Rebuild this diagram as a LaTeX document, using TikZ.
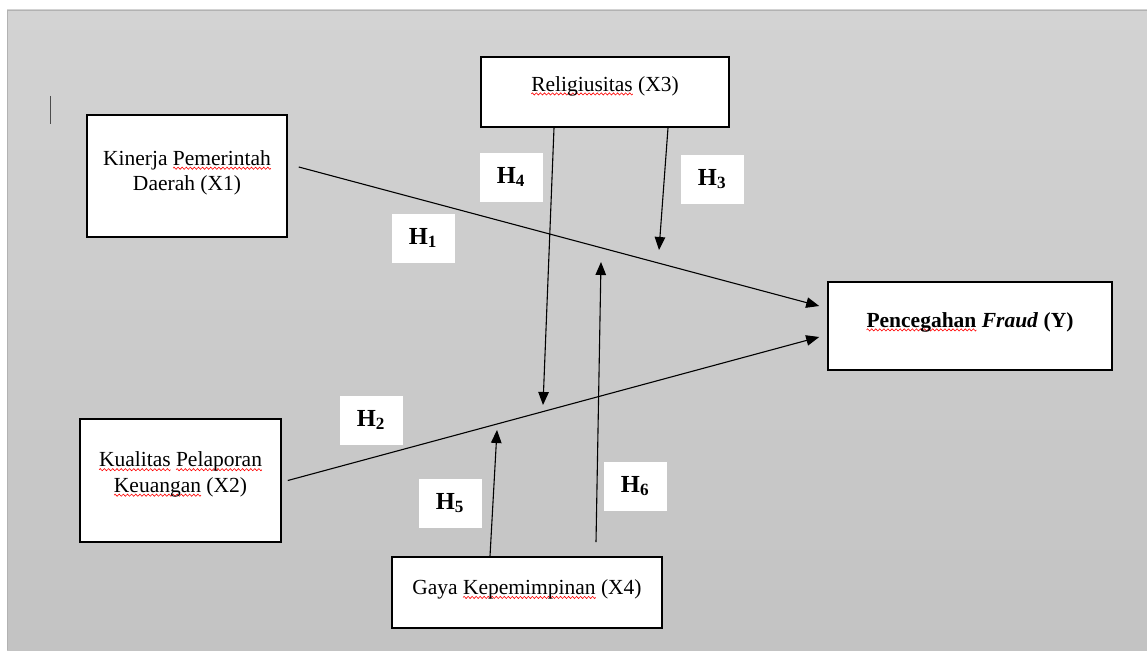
\documentclass[tikz,border=0pt]{standalone}
\usepackage{fontspec}
\setmainfont{Liberation Serif}
\usetikzlibrary{arrows.meta}
\definecolor{bgtop}{RGB}{211,211,211}
\definecolor{bgbot}{RGB}{195,195,195}
\definecolor{framecol}{RGB}{178,178,178}
\newsavebox\wavebox
\sbox\wavebox{\tikz{\useasboundingbox (0pt,-1.2pt) rectangle (4pt,1.2pt);\draw[red,line width=0.6pt] (0pt,0pt) sin (1pt,1.1pt) cos (2pt,0pt) sin (3pt,-1.1pt) cos (4pt,0pt);}}
\newcommand\spell[1]{\setbox0\hbox{#1}\rlap{\lower4pt\hbox to \wd0{\xleaders\copy\wavebox\hfill}}\box0\relax}
\begin{document}
\begin{tikzpicture}[x=1pt,y=-1pt,
  box/.style={draw=black,line width=1.6pt,fill=white,inner sep=0pt},
  lbl/.style={text=black,font=\fontsize{21.5}{25.5}\selectfont,align=center,inner sep=0pt},
  hyp/.style={fill=white,minimum width=63pt,minimum height=49pt,inner sep=0pt,font=\fontsize{24.5}{29}\selectfont\bfseries},
  link/.style={line width=1.1pt,-{Triangle[length=13pt,width=10.5pt]}}]
\useasboundingbox (0,0) rectangle (1147,650);
\fill[white] (0,0) rectangle (1147,650);
\shade[top color=bgtop,bottom color=bgbot] (7,10) rectangle (1147,650);
\draw[framecol,line width=1pt] (7.5,650) -- (7.5,10.5) -- (1147,10.5);
\draw[black!70,line width=1pt] (50.5,96) -- (50.5,124);
% boxes
\node[box,minimum width=200pt,minimum height=122pt] (x1) at (187,176) {};
\node[lbl] (x1t) at ([yshift=3pt]x1.center) {Kinerja \spell{Pemerintah}\\Daerah (X1)};
\node[box,minimum width=248pt,minimum height=70pt] (x3) at (605,92) {};
\node[lbl] (x3t) at ([yshift=6pt]x3.center) {\spell{Religiusitas} (X3)};
\node[box,minimum width=284pt,minimum height=88pt] (y) at (970,326) {};
\node[lbl,font=\fontsize{21.5}{25.5}\selectfont\bfseries] (yt) at ([yshift=4pt]y.center) {\spell{Pencegahan} \textit{Fraud} (Y)};
\node[box,minimum width=201pt,minimum height=123pt] (x2) at (180.5,480.5) {};
\node[lbl] (x2t) at ([yshift=6pt]x2.center) {\spell{Kualitas} \spell{Pelaporan}\\\spell{Keuangan} (X2)};
\node[box,minimum width=270pt,minimum height=71pt] (x4) at (527,592.5) {};
\node[lbl] (x4t) at ([yshift=3pt]x4.center) {Gaya \spell{Kepemimpinan} (X4)};
% hypothesis labels
\node[hyp] (h1) at (423,238) {H\textsubscript{1}};
\node[hyp] (h2) at (371,420) {H\textsubscript{2}};
\node[hyp] (h3) at (712,179) {H\textsubscript{3}};
\node[hyp] (h4) at (511,177) {H\textsubscript{4}};
\node[hyp] (h5) at (450,503) {H\textsubscript{5}};
\node[hyp] (h6) at (635,486) {H\textsubscript{6}};
% connectors
\coordinate (t4) at (543,405);
\coordinate (t3) at (659,250);
\coordinate (t5) at (497,430);
\coordinate (t6) at (601,262);
\draw[link] ([xshift=11pt,yshift=9pt]x1.east) -- ([xshift=-8pt,yshift=20pt]y.west);
\draw[link] ([xshift=6pt]x2.east) -- ([xshift=-8pt,yshift=-11pt]y.west);
\draw[link] ([xshift=-51pt]x3.south) -- (t4);
\draw[link] ([xshift=63pt]x3.south) -- (t3);
\draw[link] ([xshift=-37pt]x4.north) -- (t5);
\draw[link] ([xshift=69pt,yshift=14pt]x4.north) -- (t6);
\end{tikzpicture}
\end{document}
